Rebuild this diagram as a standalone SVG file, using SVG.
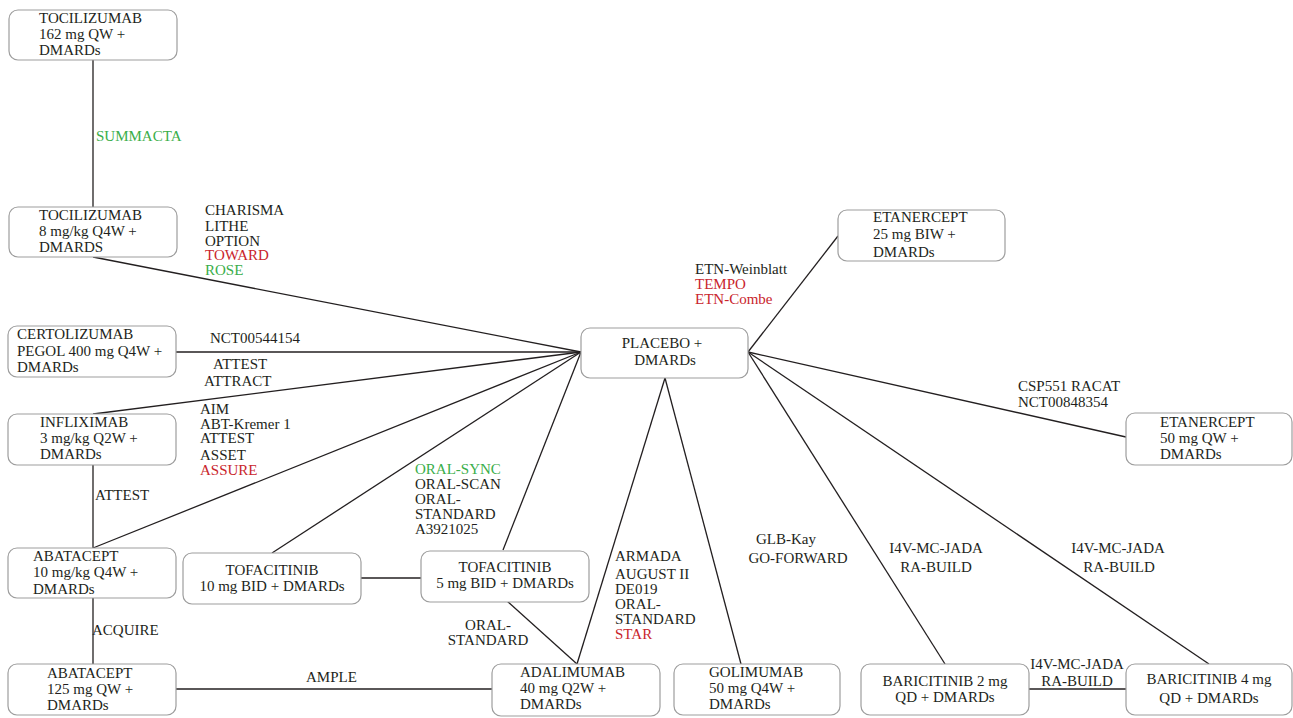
<svg xmlns="http://www.w3.org/2000/svg" width="1293" height="718" viewBox="0 0 1293 718">
<style>
text{font-family:"Liberation Serif","Times New Roman",serif;font-size:15px;fill:#231f20}
.r{fill:#c9252c}
.g{fill:#3aae4a}
.c{text-anchor:middle}
.box{fill:#fff;stroke:#9d9d9d;stroke-width:1.2}
.ln{stroke:#231f20;stroke-width:1.3;fill:none}
</style>
<rect width="1293" height="718" fill="#fff"/>
<g id="connectors">
<line class="ln" x1="93" y1="60" x2="93" y2="207"/>
<line class="ln" x1="93" y1="257" x2="581" y2="352"/>
<line class="ln" x1="176" y1="352" x2="581" y2="352"/>
<line class="ln" x1="93" y1="414" x2="581" y2="352"/>
<line class="ln" x1="93" y1="465" x2="93" y2="548"/>
<line class="ln" x1="93" y1="548" x2="581" y2="352"/>
<line class="ln" x1="93" y1="598" x2="93" y2="664"/>
<line class="ln" x1="176" y1="689" x2="492" y2="689"/>
<line class="ln" x1="272" y1="553" x2="581" y2="352"/>
<line class="ln" x1="361" y1="578" x2="421" y2="578"/>
<line class="ln" x1="503" y1="550" x2="581" y2="352"/>
<line class="ln" x1="507" y1="601" x2="577" y2="664"/>
<line class="ln" x1="577" y1="664" x2="665" y2="378"/>
<line class="ln" x1="741" y1="664" x2="665" y2="378"/>
<line class="ln" x1="748" y1="352" x2="838" y2="236"/>
<line class="ln" x1="748" y1="352" x2="1126" y2="437"/>
<line class="ln" x1="748" y1="352" x2="945" y2="664"/>
<line class="ln" x1="748" y1="352" x2="1209" y2="664"/>
<line class="ln" x1="1029" y1="689" x2="1126" y2="689"/>
<text class="g" x="96" y="141">SUMMACTA</text>
<text x="205" y="215">CHARISMA</text>
<text x="205" y="231">LITHE</text>
<text x="205" y="246">OPTION</text>
<text class="r" x="205" y="260">TOWARD</text>
<text class="g" x="205" y="275">ROSE</text>
<text x="210" y="343">NCT00544154</text>
<text x="213" y="369">ATTEST</text>
<text x="204" y="386">ATTRACT</text>
<text x="200" y="414">AIM</text>
<text x="200" y="429">ABT-Kremer 1</text>
<text x="200" y="443">ATTEST</text>
<text x="200" y="460">ASSET</text>
<text class="r" x="200" y="475">ASSURE</text>
<text x="95" y="500">ATTEST</text>
<text x="92" y="635">ACQUIRE</text>
<text x="306" y="682">AMPLE</text>
<text class="g" x="415" y="474">ORAL-SYNC</text>
<text x="415" y="489">ORAL-SCAN</text>
<text x="415" y="504">ORAL-</text>
<text x="415" y="519">STANDARD</text>
<text x="415" y="534">A3921025</text>
<text class="c" x="488" y="630">ORAL-</text>
<text class="c" x="488" y="645">STANDARD</text>
<text x="615" y="561">ARMADA</text>
<text x="615" y="579">AUGUST II</text>
<text x="615" y="594">DE019</text>
<text x="615" y="609">ORAL-</text>
<text x="615" y="624">STANDARD</text>
<text class="r" x="615" y="639">STAR</text>
<text class="c" x="786" y="544">GLB-Kay</text>
<text class="c" x="798" y="563">GO-FORWARD</text>
<text class="c" x="936" y="553">I4V-MC-JADA</text>
<text class="c" x="936" y="572">RA-BUILD</text>
<text class="c" x="1118" y="553">I4V-MC-JADA</text>
<text class="c" x="1119" y="572">RA-BUILD</text>
<text class="c" x="1077" y="669">I4V-MC-JADA</text>
<text class="c" x="1077" y="686">RA-BUILD</text>
<text x="695" y="274">ETN-Weinblatt</text>
<text class="r" x="695" y="289">TEMPO</text>
<text class="r" x="695" y="304">ETN-Combe</text>
<text x="1018" y="391">CSP551 RACAT</text>
<text x="1018" y="407">NCT00848354</text>
</g>
<g id="toc162"><rect class="box" x="9" y="10" width="168" height="50" rx="9"/><text x="39" y="23">TOCILIZUMAB</text><text x="39" y="39">162 mg QW +</text><text x="39" y="55">DMARDs</text></g>
<g id="toc8"><rect class="box" x="9" y="207" width="168" height="50" rx="9"/><text x="39" y="220">TOCILIZUMAB</text><text x="39" y="236">8 mg/kg Q4W +</text><text x="39" y="252">DMARDS</text></g>
<g id="cert"><rect class="box" x="8" y="326" width="168" height="51" rx="9"/><text x="17" y="339">CERTOLIZUMAB</text><text x="17" y="356">PEGOL 400 mg Q4W +</text><text x="17" y="372">DMARDs</text></g>
<g id="inflix"><rect class="box" x="8" y="414" width="168" height="51" rx="9"/><text x="40" y="427">INFLIXIMAB</text><text x="40" y="443">3 mg/kg Q2W +</text><text x="40" y="459">DMARDs</text></g>
<g id="abat10"><rect class="box" x="8" y="548" width="168" height="50" rx="9"/><text x="33" y="561">ABATACEPT</text><text x="33" y="577">10 mg/kg Q4W +</text><text x="33" y="594">DMARDs</text></g>
<g id="abat125"><rect class="box" x="8" y="664" width="168" height="51" rx="9"/><text x="47" y="678">ABATACEPT</text><text x="47" y="694">125 mg QW +</text><text x="47" y="710">DMARDs</text></g>
<g id="tofa10"><rect class="box" x="183" y="553" width="178" height="51" rx="9"/><text class="c" x="272" y="575">TOFACITINIB</text><text class="c" x="272" y="591">10 mg BID + DMARDs</text></g>
<g id="tofa5"><rect class="box" x="421" y="551" width="168" height="51" rx="9"/><text class="c" x="505" y="572">TOFACITINIB</text><text class="c" x="505" y="588">5 mg BID + DMARDs</text></g>
<g id="adal"><rect class="box" x="492" y="664" width="168" height="52" rx="9"/><text x="520" y="677">ADALIMUMAB</text><text x="520" y="693">40 mg Q2W +</text><text x="520" y="709">DMARDs</text></g>
<g id="goli"><rect class="box" x="674" y="664" width="166" height="51" rx="9"/><text x="709" y="677">GOLIMUMAB</text><text x="709" y="693">50 mg Q4W +</text><text x="709" y="709">DMARDs</text></g>
<g id="bari2"><rect class="box" x="861" y="664" width="168" height="51" rx="9"/><text class="c" x="945" y="686">BARICITINIB 2 mg</text><text class="c" x="945" y="702">QD + DMARDs</text></g>
<g id="bari4"><rect class="box" x="1126" y="664" width="166" height="51" rx="9"/><text class="c" x="1209" y="684">BARICITINIB 4 mg</text><text class="c" x="1209" y="703">QD + DMARDs</text></g>
<g id="etn50"><rect class="box" x="1126" y="413" width="166" height="52" rx="9"/><text x="1160" y="427">ETANERCEPT</text><text x="1160" y="443">50 mg QW +</text><text x="1160" y="459">DMARDs</text></g>
<g id="etn25"><rect class="box" x="838" y="210" width="167" height="51" rx="9"/><text x="873" y="222">ETANERCEPT</text><text x="873" y="239">25 mg BIW +</text><text x="873" y="257">DMARDs</text></g>
<g id="placebo"><rect class="box" x="581" y="328" width="167" height="50" rx="9"/><text class="c" x="662" y="348">PLACEBO +</text><text class="c" x="665" y="365">DMARDs</text></g>
</svg>
